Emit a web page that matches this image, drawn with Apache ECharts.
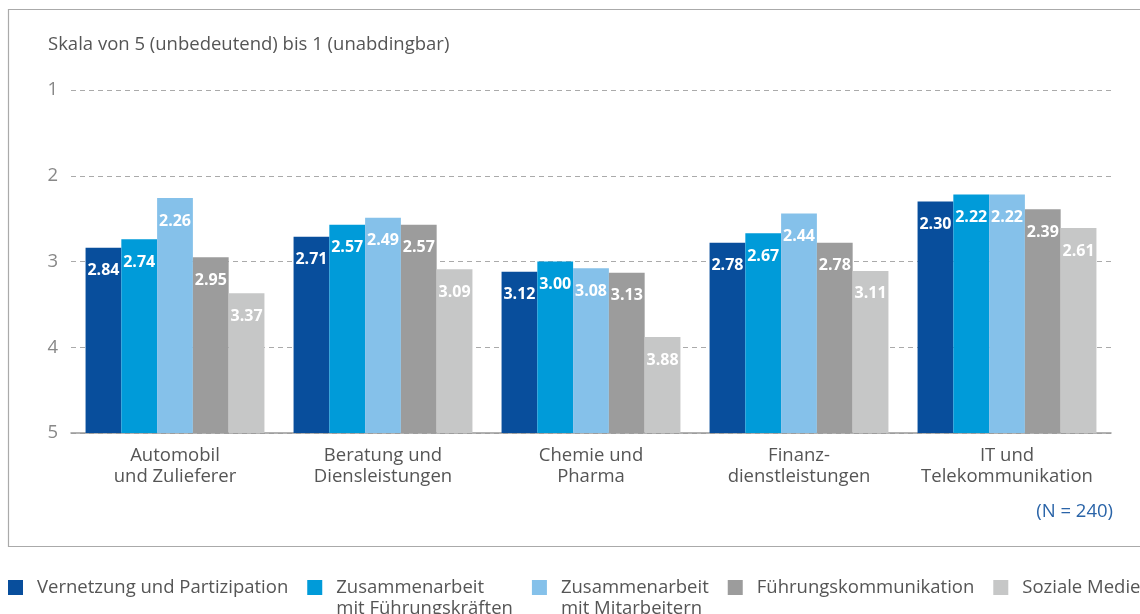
<!DOCTYPE html>
<html><head><meta charset="utf-8">
<script src="https://cdn.jsdelivr.net/npm/echarts@6/dist/echarts.min.js"></script>
<style>html,body{margin:0;padding:0;background:#fff}#c{width:1140px;height:614px}</style>
</head><body><div id="c"></div>
<script>
const categories = ["Automobil\nund Zulieferer", "Beratung und\nDiensleistungen", "Chemie und\nPharma", "Finanz-\ndienstleistungen", "IT und\nTelekommunikation"];
const seriesNames = ["Vernetzung und Partizipation", "Zusammenarbeit\nmit Führungskräften", "Zusammenarbeit\nmit Mitarbeitern", "Führungskommunikation", "Soziale Medien"];
const vernetzung = [2.84, 2.71, 3.12, 2.78, 2.30];
const zusFuehrung = [2.74, 2.57, 3.00, 2.67, 2.22];
const zusMitarbeiter = [2.26, 2.49, 3.08, 2.44, 2.22];
const fuehrungsKomm = [2.95, 2.57, 3.13, 2.78, 2.39];
const sozialeMedien = [3.37, 3.09, 3.88, 3.11, 2.61];
const scaleTicks = [5, 4, 3, 2, 1];
const colors = ["#084e9c", "#009bd9", "#85c1ea", "#9c9c9c", "#c6c7c7"];
const allValues = [vernetzung, zusFuehrung, zusMitarbeiter, fuehrungsKomm, sozialeMedien];
const WORST = 5;
const FONT = "Open Sans";
const FS = 18.5;

const chart = echarts.init(document.getElementById('c'), null, {renderer: 'canvas'});
chart.setOption({
  animation: false,
  textStyle: {fontFamily: FONT},
  grid: {left: 71, right: 29, top: 90, bottom: 181, containLabel: false},
  xAxis: {
    type: 'category', data: categories,
    axisLine: {lineStyle: {color: '#999', width: 1.5}},
    axisTick: {show: false},
    axisLabel: {interval: 0, hideOverlap: false, color: '#555', fontSize: FS, lineHeight: 21, margin: 12, fontFamily: FONT}
  },
  yAxis: {
    type: 'value', min: 0, max: 4, interval: 1,
    axisLine: {show: false}, axisTick: {show: false},
    axisLabel: {color: '#888', fontSize: FS, margin: 13, fontFamily: FONT,
      formatter: v => String(scaleTicks[v])},
    splitLine: {lineStyle: {color: '#aaa', type: [5, 4], width: 1}}
  },
  legend: {
    left: 8, top: 577, width: 1600, padding: 0, itemGap: 19, itemWidth: 15, itemHeight: 36,
    icon: 'path://M0,0L15,0L15,15L0,15Z M0,36L15,36',
    selectedMode: false,
    formatter: n => n.indexOf('\n') >= 0 ? n : n + '\n ',
    textStyle: {color: '#555', fontSize: FS, lineHeight: 21, fontFamily: FONT, padding: [0, 0, 0, 9]},
    data: seriesNames
  },
  graphic: [
    {type: 'rect', shape: {x: 8.5, y: 9.5, width: 1200, height: 537}, style: {fill: 'none', stroke: '#aaa', lineWidth: 1.2}, silent: true, z: -1},
    {type: 'text', left: 48, top: 35, style: {text: 'Skala von 5 (unbedeutend) bis 1 (unabdingbar)', fill: '#555', font: FS + 'px "Open Sans"'}},
    {type: 'text', right: 27, top: 502, style: {text: '(N = 240)', fill: '#2a64a8', font: FS + 'px "Open Sans"'}}
  ],
  series: allValues.map((vals, i) => ({
    name: seriesNames[i], type: 'bar',
    data: vals.map(v => WORST - v),
    barGap: '0%', barCategoryGap: '14%',
    itemStyle: {color: colors[i]},
    label: {show: true, position: 'insideTop', distance: 15, color: '#fff', fontWeight: 'bold', fontSize: 16, fontFamily: FONT,
      formatter: p => vals[p.dataIndex].toFixed(2)}
  }))
});
</script></body></html>
